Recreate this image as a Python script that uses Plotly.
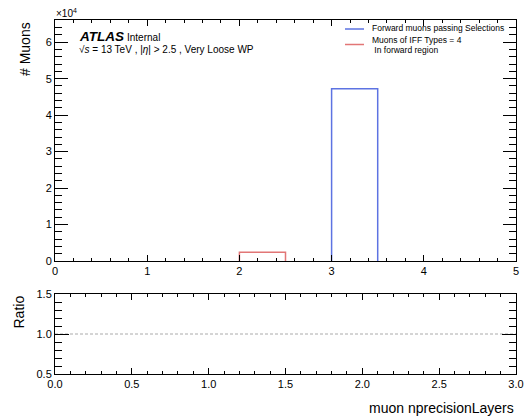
import plotly.graph_objects as go

# Binning of the muon nprecisionLayers histogram
bin_edges = [0.0, 0.5, 1.0, 1.5, 2.0, 2.5, 3.0, 3.5, 4.0, 4.5, 5.0]
counts_forward = [0, 0, 0, 0, 0, 0, 47200, 0, 0, 0]
counts_iff4 = [0, 0, 0, 0, 2400, 0, 0, 0, 0, 0]

# Axis ticks
main_yticks = [0, 1, 2, 3, 4, 5, 6]
main_xticks = [0, 1, 2, 3, 4, 5]
ratio_xticks = [0.0, 0.5, 1.0, 1.5, 2.0, 2.5, 3.0]
ratio_yticks = [0.5, 1.0, 1.5]
ratio_ref = [1.0, 1.0]
ratio_ref_x = [0.0, 3.0]

BLUE = "#5d73e2"
RED = "#e27676"
FONT = "Liberation Sans, Arial, sans-serif"
W, H = 525, 418


def step_outline(edges, counts):
    xs, ys = [], []
    for lo, hi, c in zip(edges[:-1], edges[1:], counts):
        if c > 0:
            xs += [lo, lo, hi, hi, None]
            ys += [0, c, c, 0, None]
    return xs, ys


fig = go.Figure()

for counts, color, name in [(counts_forward, BLUE, "Forward muons passing Selections"),
                            (counts_iff4, RED, "Muons of IFF Types = 4 In forward region")]:
    xs, ys = step_outline(bin_edges, counts)
    fig.add_trace(go.Scatter(x=xs, y=ys, mode="lines", name=name,
                             line=dict(color=color, width=1.5),
                             xaxis="x", yaxis="y", showlegend=False,
                             hoverinfo="skip"))

fig.add_trace(go.Scatter(x=ratio_ref_x, y=ratio_ref, mode="lines",
                         line=dict(color="#aaaaaa", width=1, dash="3px,2px"),
                         xaxis="x2", yaxis="y2", showlegend=False,
                         hoverinfo="skip"))


def px_x(p):
    return p / W


def px_y(p):
    return 1 - p / H


common = dict(showline=True, linecolor="black", linewidth=1, mirror="ticks",
              ticks="inside", tickcolor="black", showgrid=False, zeroline=False,
              automargin=False,
              tickfont=dict(family=FONT, size=11, color="black"))

xdom = [px_x(55), px_x(516)]

fig.update_layout(
    width=W, height=H, autosize=False,
    margin=dict(l=0, r=0, t=0, b=0),
    paper_bgcolor="white", plot_bgcolor="white",
    font=dict(family=FONT, color="black"),
    xaxis=dict(domain=xdom, range=[0, 5], anchor="y",
               tickmode="array", tickvals=main_xticks,
               ticktext=[str(v) for v in main_xticks],
               ticklen=6, tickwidth=1,
               minor=dict(dtick=0.2, tick0=0, ticklen=3, ticks="inside",
                          tickcolor="black", showgrid=False),
               **common),
    yaxis=dict(domain=[px_y(261), px_y(20)], range=[0, 66080], anchor="x",
               tickmode="array", tickvals=[v * 1e4 for v in main_yticks],
               ticktext=[str(v) for v in main_yticks],
               ticklen=13, tickwidth=1,
               minor=dict(dtick=2000, tick0=0, ticklen=7, ticks="inside",
                          tickcolor="black", showgrid=False),
               **common),
    xaxis2=dict(domain=xdom, range=[0, 3], anchor="y2",
                tickmode="array", tickvals=ratio_xticks,
                ticktext=[f"{v:.1f}" for v in ratio_xticks],
                ticklen=6, tickwidth=1,
                minor=dict(dtick=0.1, tick0=0, ticklen=3, ticks="inside",
                           tickcolor="black", showgrid=False),
                **common),
    yaxis2=dict(domain=[px_y(374), px_y(294)], range=[0.5, 1.5], anchor="x2",
                tickmode="array", tickvals=ratio_yticks,
                ticktext=[f"{v:.1f}" for v in ratio_yticks],
                ticklen=14, tickwidth=1,
                minor=dict(dtick=0.1, tick0=0.5, ticklen=7, ticks="inside",
                           tickcolor="black", showgrid=False),
                **common),
)

ann = []
# axis titles
ann.append(dict(text="# Muons", x=px_x(25), y=px_y(20), xref="paper", yref="paper",
                textangle=-90, xanchor="center", yanchor="top", showarrow=False,
                font=dict(family=FONT, size=14)))
ann.append(dict(text="Ratio", x=px_x(18), y=px_y(294), xref="paper", yref="paper",
                textangle=-90, xanchor="center", yanchor="top", showarrow=False,
                font=dict(family=FONT, size=14)))
ann.append(dict(text="muon nprecisionLayers", x=px_x(516), y=px_y(408),
                xref="paper", yref="paper", xanchor="right", yanchor="middle",
                showarrow=False, font=dict(family=FONT, size=14)))
# exponent label
ann.append(dict(text="×10<sup>4</sup>", x=px_x(54), y=px_y(13), xref="paper",
                yref="paper", xanchor="left", yanchor="middle", showarrow=False,
                font=dict(family=FONT, size=10)))
# ATLAS label
ann.append(dict(text="<b><i>ATLAS</i></b>", x=px_x(77), y=px_y(37), xref="paper",
                yref="paper", xanchor="left", yanchor="middle", showarrow=False,
                font=dict(family=FONT, size=13.5)))
ann.append(dict(text="Internal", x=px_x(125), y=px_y(37.5), xref="paper",
                yref="paper", xanchor="left", yanchor="middle", showarrow=False,
                font=dict(family=FONT, size=10)))
ann.append(dict(text="√<i>s</i> = 13 TeV , |<i>η</i>| > 2.5 , Very Loose WP",
                x=px_x(77), y=px_y(49), xref="paper", yref="paper",
                xanchor="left", yanchor="middle", showarrow=False,
                font=dict(family=FONT, size=10)))
# legend entries
ann.append(dict(text="Forward muons passing Selections", x=px_x(370), y=px_y(28),
                xref="paper", yref="paper", xanchor="left", yanchor="middle",
                showarrow=False, font=dict(family=FONT, size=8.5)))
ann.append(dict(text="Muons of IFF Types = 4", x=px_x(370), y=px_y(40.5),
                xref="paper", yref="paper", xanchor="left", yanchor="middle",
                showarrow=False, font=dict(family=FONT, size=8.5)))
ann.append(dict(text=" In forward region", x=px_x(370), y=px_y(50),
                xref="paper", yref="paper", xanchor="left", yanchor="middle",
                showarrow=False, font=dict(family=FONT, size=8.5)))

shapes = [
    dict(type="line", xref="paper", yref="paper", x0=px_x(345), x1=px_x(364),
         y0=px_y(29), y1=px_y(29), line=dict(color=BLUE, width=1.5)),
    dict(type="line", xref="paper", yref="paper", x0=px_x(345), x1=px_x(364),
         y0=px_y(44.5), y1=px_y(44.5), line=dict(color=RED, width=1.5)),
]

fig.update_layout(annotations=ann, shapes=shapes)

fig.write_html("out.html")
